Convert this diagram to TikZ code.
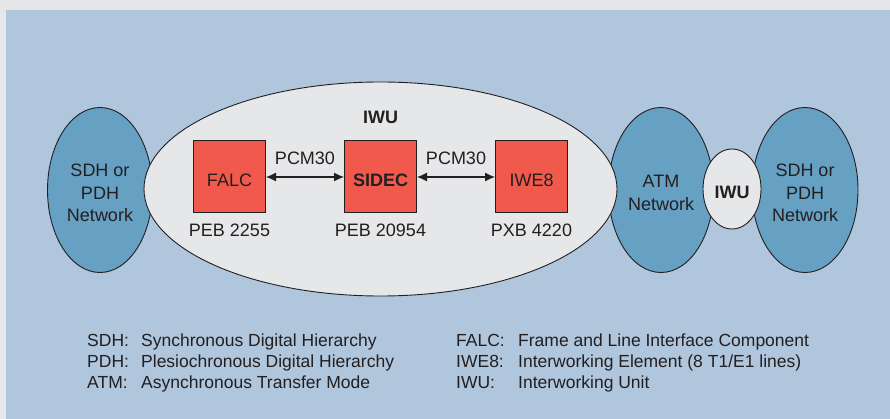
\documentclass[tikz,border=0pt]{standalone}
\usepackage{fontspec}
\setmainfont{Liberation Sans}
\usetikzlibrary{shapes.geometric,arrows.meta}
\definecolor{pagegrey}{HTML}{E6E7E9}
\definecolor{panelblue}{HTML}{AFC6DD}
\definecolor{netblue}{HTML}{66A0C2}
\definecolor{chipred}{HTML}{F0594B}
\definecolor{inkdark}{HTML}{231F20}
\tikzset{
  net/.style={draw=inkdark, fill=netblue, shape=ellipse, inner sep=0pt, line width=0.9pt,
    label={[align=center, yshift=-3pt]center:#1}},
  iwu/.style={net=#1, fill=pagegrey},
  chip/.style={draw=inkdark, fill=chipred, minimum size=72pt, inner sep=0pt, line width=1pt,
    label={[yshift=-3pt]center:#1}},
  link/.style={{Latex[length=10pt,width=9pt]}-{Latex[length=10pt,width=9pt]}, line width=1.2pt, draw=inkdark},
  legend/.style={anchor=base west, inner sep=0pt, font=\fontsize{17.5}{21}\selectfont}
}
\def\iwuchip(#1,#2,#3,#4){
  \node[chip={#3}] (#1) at (#2,177) {};
  \node (#1_pn) at (#2,230) {#4};
}

\begin{document}
\begin{tikzpicture}[x=1pt, y=-1pt, text=inkdark, font=\fontsize{18}{22.5}\selectfont]
\useasboundingbox (0,0) rectangle (890,419);
\fill[pagegrey] (0,0) rectangle (890,419);
\fill[panelblue] (6,10) rectangle (890,419);

% networks first, the IWU ovals lie on top of them
\node[net={SDH or\\PDH\\Network}, minimum width=105pt, minimum height=165pt] (sdh_l) at (100,190) {};
\node[net={ATM\\Network}, minimum width=105pt, minimum height=165pt] (atm_n) at (661,190) {};
\node[net={SDH or\\PDH\\Network}, minimum width=106pt, minimum height=165pt] (sdh_r) at (805,190) {};
\node[iwu={}, minimum width=473pt, minimum height=214pt] (iwu_big) at (380.5,189) {};
\node[iwu={\textbf{IWU}}, minimum width=58pt, minimum height=80pt] (iwu_sm) at (732,189) {};
\node[font=\fontsize{18}{22.5}\selectfont\bfseries] (iwu_lb) at (380.5,117) {IWU};

\iwuchip(falc,229.5,FALC,PEB 2255)
\iwuchip(sidec,380.5,\textbf{SIDEC},PEB 20954)
\iwuchip(iwe,531.5,IWE8,PXB 4220)

\draw[link] (falc) -- node[above=8pt] {PCM30} (sidec);
\draw[link] (sidec) -- node[above=8pt] {PCM30} (iwe);

% legend
\node[legend] (sdh_ab) at (87,346) {SDH:};
\node[legend] (sdh_tx) at (141,346) {Synchronous Digital Hierarchy};
\node[legend] (pdh_ab) at (87,367) {PDH:};
\node[legend] (pdh_tx) at (141,367) {Plesiochronous Digital Hierarchy};
\node[legend] (atm_ab) at (87,388) {ATM:};
\node[legend] (atm_tx) at (141,388) {Asynchronous Transfer Mode};
\node[legend] (falc_ab) at (456,346) {FALC:};
\node[legend] (falc_tx) at (518,346) {Frame and Line Interface Component};
\node[legend] (iwe_ab) at (456,367) {IWE8:};
\node[legend] (iwe_tx) at (518,367) {Interworking Element (8 T1/E1 lines)};
\node[legend] (iwu_ab) at (456,388) {IWU:};
\node[legend] (iwu_tx) at (518,388) {Interworking Unit};
\end{tikzpicture}
\end{document}
